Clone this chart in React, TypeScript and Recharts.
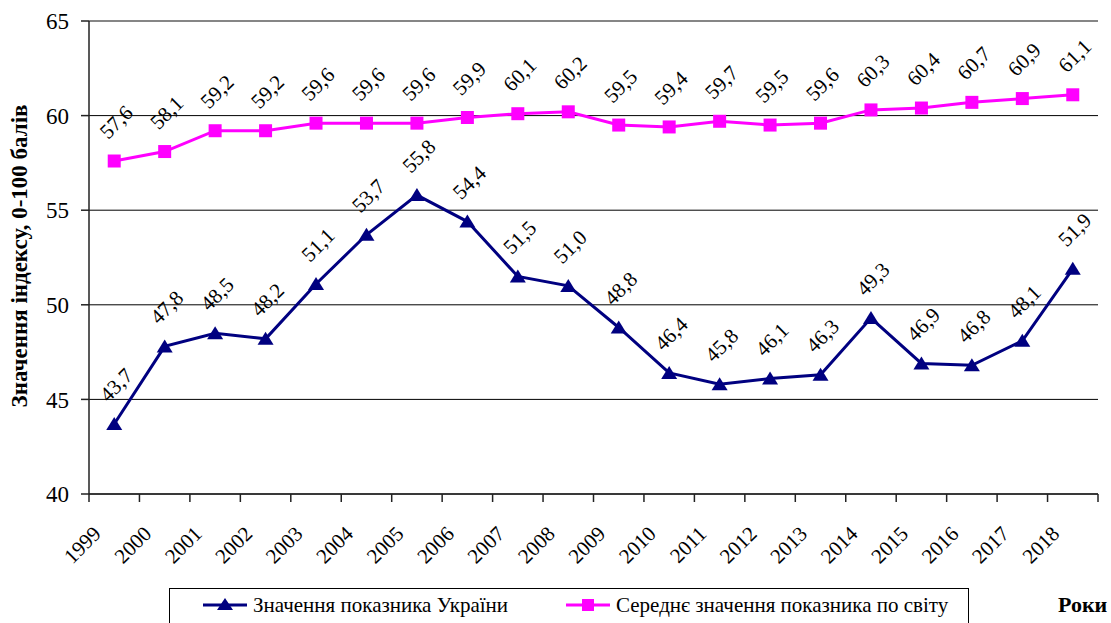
import React from "react";
import { LineChart, Line, XAxis, YAxis, CartesianGrid, ReferenceLine, LabelList } from "recharts";

const years = ["1999", "2000", "2001", "2002", "2003", "2004", "2005", "2006", "2007", "2008", "2009", "2010", "2011", "2012", "2013", "2014", "2015", "2016", "2017", "2018"];
const ukraine = [43.7, 47.8, 48.5, 48.2, 51.1, 53.7, 55.8, 54.4, 51.5, 51.0, 48.8, 46.4, 45.8, 46.1, 46.3, 49.3, 46.9, 46.8, 48.1, 51.9];
const world = [57.6, 58.1, 59.2, 59.2, 59.6, 59.6, 59.6, 59.9, 60.1, 60.2, 59.5, 59.4, 59.7, 59.5, 59.6, 60.3, 60.4, 60.7, 60.9, 61.1];
const yTicks = [40, 45, 50, 55, 60, 65];

const ukraineName = "Значення показника України";
const worldName = "Середнє значення показника по світу";
const yTitle = "Значення індексу, 0-100 балів";
const xTitle = "Роки";

const data = years.map((year, i) => ({ year, ukraine: ukraine[i], world: world[i] }));

const W = 1111;
const H = 623;
const M = { top: 21, right: 13, left: 29, bottom: 69 };
const Y_W = 60;
const PLOT_L = M.left + Y_W;
const PLOT_R = W - M.right;
const BAND = (PLOT_R - PLOT_L) / years.length;
const FONT = "Liberation Serif";
const NAVY = "#000080";
const PINK = "#FF00FF";

const fmt = (v: number) => v.toFixed(1).replace(".", ",");

// year labels sit under each band; tick marks go on the band edges
function YearTick(props: any) {
  const { x, y, payload, index } = props;
  const left = x - BAND / 2;
  const ax = x - 12;
  const ay = y + 41;
  return (
    <g>
      <line x1={left} y1={y} x2={left} y2={y + 8} stroke="#222" strokeWidth={1.5} />
      {index === years.length - 1 && (
        <line x1={x + BAND / 2} y1={y} x2={x + BAND / 2} y2={y + 8} stroke="#222" strokeWidth={1.5} />
      )}
      <text x={ax} y={ay} transform={`rotate(-45 ${ax} ${ay})`} textAnchor="end" fontFamily={FONT} fontSize={21} fill="#000">
        {payload.value}
      </text>
    </g>
  );
}

function ValueLabel(props: any) {
  const { x, y, value } = props;
  const cx = x + 2;
  const cy = y - 39;
  return (
    <text x={cx} y={cy} transform={`rotate(-45 ${cx} ${cy})`} textAnchor="middle" dominantBaseline="central" fontFamily={FONT} fontSize={21} fill="#000">
      {fmt(value)}
    </text>
  );
}

function SquareDot(props: any) {
  const { cx, cy } = props;
  return <rect x={cx - 6.5} y={cy - 6.5} width={13} height={13} fill={PINK} />;
}

function TriangleDot(props: any) {
  const { cx, cy } = props;
  return <polygon points={`${cx},${cy - 7} ${cx + 8},${cy + 6} ${cx - 8},${cy + 6}`} fill={NAVY} />;
}

function LegendBox() {
  const item = (left: number, color: string, square: boolean, label: string) => (
    <div style={{ position: "absolute", left, top: 0, height: 32, display: "flex", alignItems: "center" }}>
      <svg width={44} height={16} style={{ display: "block" }}>
        <line x1={0} y1={8} x2={44} y2={8} stroke={color} strokeWidth={3} />
        {square ? (
          <rect x={16} y={2} width={12} height={12} fill={color} />
        ) : (
          <polygon points="22,1 30,13 14,13" fill={color} />
        )}
      </svg>
      <span style={{ marginLeft: 6, fontFamily: FONT, fontSize: 21, color: "#000", whiteSpace: "nowrap" }}>{label}</span>
    </div>
  );
  return (
    <div style={{ position: "absolute", left: 169, top: 588, width: 800, height: 50, border: "1px solid #000", boxSizing: "border-box", background: "#fff" }}>
      {item(33, NAVY, false, ukraineName)}
      {item(396, PINK, true, worldName)}
    </div>
  );
}

export default function App() {
  return (
    <div style={{ position: "absolute", left: 0, top: 0, width: W, height: H, background: "#fff", overflow: "hidden", fontFamily: FONT }}>
      <LineChart width={W} height={H} data={data} margin={M} style={{ fontFamily: FONT }}>
        <CartesianGrid vertical={false} stroke="#000" strokeWidth={1} />
        <XAxis
          dataKey="year"
          scale="band"
          height={60}
          tickLine={false}
          tickSize={0}
          tickMargin={0}
          interval={0}
          axisLine={{ stroke: "#222", strokeWidth: 1.5 }}
          tick={<YearTick />}
          label={{
            content: () => (
              <text x={1058} y={612} fontFamily={FONT} fontSize={22} fontWeight="bold" fill="#000">
                {xTitle}
              </text>
            ),
          }}
        />
        <YAxis
          width={Y_W}
          domain={[40, 65]}
          ticks={yTicks}
          interval={0}
          tickSize={8}
          tickMargin={12}
          tickLine={{ stroke: "#222", strokeWidth: 1.5 }}
          axisLine={{ stroke: "#222", strokeWidth: 1.5 }}
          tick={{ fontFamily: FONT, fontSize: 23, fill: "#000" }}
          label={{
            content: () => (
              <text x={19} y={256} transform="rotate(-90 19 256)" textAnchor="middle" dominantBaseline="central" fontFamily={FONT} fontSize={23} fontWeight="bold" fill="#000">
                {yTitle}
              </text>
            ),
          }}
        />
        <ReferenceLine y={65} stroke="#888" strokeWidth={1.5} />
        <ReferenceLine x="2018" position="end" stroke="#888" strokeWidth={1.5} />
        <Line dataKey="world" name={worldName} stroke={PINK} strokeWidth={3} dot={<SquareDot />} activeDot={false} isAnimationActive={false}>
          <LabelList dataKey="world" content={<ValueLabel />} />
        </Line>
        <Line dataKey="ukraine" name={ukraineName} stroke={NAVY} strokeWidth={3} dot={<TriangleDot />} activeDot={false} isAnimationActive={false}>
          <LabelList dataKey="ukraine" content={<ValueLabel />} />
        </Line>
      </LineChart>
      <LegendBox />
    </div>
  );
}
